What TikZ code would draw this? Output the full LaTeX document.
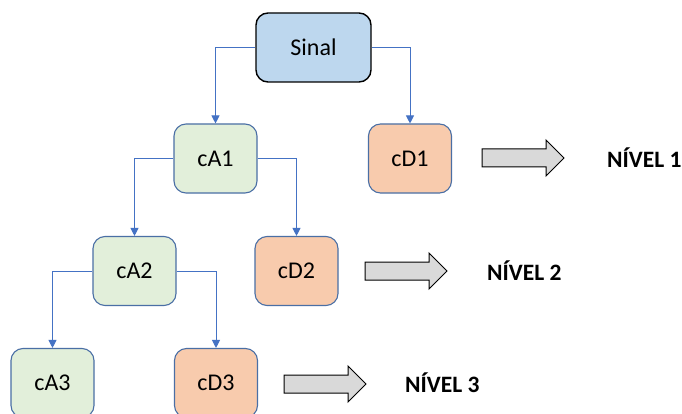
\documentclass[tikz,border=0pt]{standalone}
\usepackage{fontspec}
\setmainfont{Carlito}
\usetikzlibrary{arrows.meta}
\definecolor{sinalfill}{HTML}{BDD7EE}
\definecolor{approxfill}{HTML}{E2EFDA}
\definecolor{detailfill}{HTML}{F8CBAD}
\definecolor{boxline}{HTML}{4A6FA5}
\definecolor{linkblue}{HTML}{4472C4}
\definecolor{arrowfill}{HTML}{D9D9D9}
\begin{document}
\begin{tikzpicture}[x=1pt,y=-1pt,
  box/.style={rounded corners=12pt, minimum width=83pt, minimum height=69pt,
    inner sep=0pt, font=\fontsize{24}{28}\selectfont, draw=boxline, line width=1.1pt},
  sinalbox/.style={box, fill=sinalfill, draw=black, line width=1.4pt, minimum width=115pt},
  approx/.style={box, fill=approxfill},
  detail/.style={box, fill=detailfill},
  link/.style={draw=linkblue, line width=0.9pt, -{Triangle[length=8pt,width=8pt]}},
  blockarrow/.style={draw=black, fill=arrowfill, line width=1pt},
  level/.style={anchor=west, inner sep=0pt, font=\bfseries\fontsize{23.5}{27}\selectfont}]
  \clip (0,0) rectangle (682,414);
  \fill[white] (0,0) rectangle (682,414);

  % decomposition tree
  \node[sinalbox] (sinal) at (313.5,47.5) {Sinal};
  \node[approx] (cA1) at (215.5,158.5) {cA1};
  \node[detail] (cD1) at (410,158.5) {cD1};
  \node[approx] (cA2) at (134.5,271) {cA2};
  \node[detail] (cD2) at (296.5,271) {cD2};
  \node[approx] (cA3) at (52.5,383) {cA3};
  \node[detail] (cD3) at (216,383) {cD3};

  \draw[link] (sinal.west) -| (cA1.north);
  \draw[link] (sinal.east) -| (cD1.north);
  \draw[link] (cA1.west) -| (cA2.north);
  \draw[link] (cA1.east) -| (cD2.north);
  \draw[link] (cA2.west) -| (cA3.north);
  \draw[link] (cA2.east) -| (cD3.north);

  % level markers
  \draw[blockarrow] (482,149) -- (546,149) -- (546,140) -- (564,158) -- (546,176) -- (546,167) -- (482,167) -- cycle;
  \draw[blockarrow] (365,262) -- (429,262) -- (429,253) -- (447,271) -- (429,289) -- (429,280) -- (365,280) -- cycle;
  \draw[blockarrow] (284,375) -- (348,375) -- (348,366) -- (366,384) -- (348,402) -- (348,393) -- (284,393) -- cycle;

  \node[level] (n1) at (607,158) {NÍVEL 1};
  \node[level] (n2) at (487,271) {NÍVEL 2};
  \node[level] (n3) at (405,383) {NÍVEL 3};
\end{tikzpicture}
\end{document}
